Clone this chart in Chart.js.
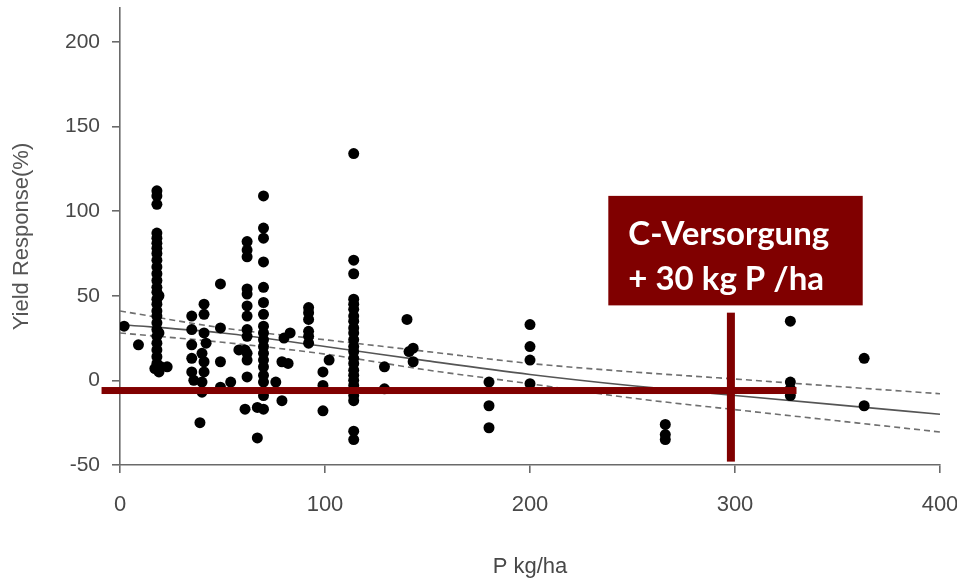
<!DOCTYPE html>
<html>
<head>
<meta charset="utf-8">
<script src="https://cdn.jsdelivr.net/npm/chart.js@4/dist/chart.umd.min.js"></script>
<style>
  html, body { margin: 0; padding: 0; background: #ffffff; }
  #wrap { width: 957px; height: 583px; }
</style>
</head>
<body>
<div id="wrap"><canvas id="c" width="957" height="583"></canvas></div>
<script>
// Axis ticks
const xTicks = [0, 100, 200, 300, 400];
const yTicks = [-50, 0, 50, 100, 150, 200];

// Field trials: P rate (kg/ha) and yield response (%)
const trialP = [
  2, 9,
  18, 18, 18, 18, 18, 18, 18, 18, 18, 18, 18, 18, 18, 18, 18, 18, 18, 18, 18, 18, 18, 18, 18, 18, 18, 17, 19, 20, 19, 19,
  23,
  35, 35, 35, 35, 35, 36,
  41, 41, 41, 40, 41, 41, 40, 40, 39, 42,
  49, 49, 49, 54, 49,
  62, 62, 62, 62, 62, 62, 62, 62, 62, 61, 62, 62, 62, 61,
  58,
  70, 70, 70, 70, 70, 70, 70, 70, 70, 70, 70, 70, 70, 70, 70, 70, 70, 67, 70, 67,
  76, 79, 79, 82, 80, 83,
  92, 92, 92, 92, 92, 92,
  102, 99, 99, 99,
  114, 114, 114, 114, 114, 114, 114, 114, 114, 114, 114, 114, 114, 114, 114, 114, 114, 114, 114, 114, 114, 114, 114, 114,
  129, 129,
  140, 141, 143, 143,
  180, 180, 180,
  200, 200, 200, 200,
  266, 266, 266,
  327, 327, 327, 327,
  363, 363
];
const trialResponse = [
  32, 21,
  112, 109, 104, 87, 84, 81, 78, 75, 71, 67, 63, 59, 55, 52, 48, 45, 41, 38, 34, 30, 26, 22, 18, 14, 10, 7, 5, 8, 50, 28,
  8,
  38, 30, 21, 13, 5, 0,
  45, 39, 28, 16, 11, 5, -1, -7, -25, 22,
  57, 31, 11, -1, -4,
  82, 77, 73, 54, 51, 44, 38, 30, 26, 18, 16, 12, 2, -17,
  18,
  109, 90, 84, 70, 55, 46, 39, 32, 28, 24, 20, 16, 12, 8, 3, -1, -9, -16, -17, -34,
  -1, -12, 11, 10, 25, 28,
  43, 40, 36, 29, 26, 22,
  12, 5, -3, -18,
  134, 71, 63, 48, 45, 42, 38, 35, 31, 28, 24, 20, 17, 13, 10, 6, 3, 0, -3, -6, -9, -12, -30, -35,
  8, -5,
  36, 17, 19, 11,
  -1, -15, -28,
  33, 20, 12, -2,
  -26, -32, -35,
  35, -1, -5, -9,
  13, -15
];

// Fitted response curve with its confidence band
const fitP     = [0, 50, 100, 150, 200, 250, 300, 350, 400];
const fitMean  = [33, 28, 20, 11.5, 3.5, -3.2, -8.9, -14.5, -20];
const fitUpper = [41, 31, 24, 17, 10, 5, 0.8, -3.6, -7.9];
const fitLower = [28, 22.5, 15.5, 6.1, -2, -10.5, -17.3, -23.9, -30.5];

const toXY = (xs, ys) => xs.map((v, i) => ({ x: v, y: ys[i] }));

const markRed = '#800000';
const axisFont = '"Liberation Sans", Arial, sans-serif';

// Marker: reference level, 300 kg line and the label box
const markerPlugin = {
  id: 'pMarker',
  afterDraw(chart) {
    const { ctx, scales: { x, y } } = chart;
    ctx.save();
    ctx.fillStyle = markRed;

    // horizontal level line
    const hy = y.getPixelForValue(-6);
    const hx0 = x.getPixelForValue(-9);
    const hx1 = x.getPixelForValue(330);
    ctx.fillRect(hx0, hy - 3.5, hx1 - hx0, 7);

    // vertical line at the 300 kg mark
    const vx = x.getPixelForValue(298);
    const vy0 = y.getPixelForValue(40);
    const vy1 = y.getPixelForValue(-48);
    ctx.fillRect(vx - 4, vy0, 8, vy1 - vy0);

    // label box
    const bx0 = x.getPixelForValue(238.2);
    const bx1 = x.getPixelForValue(362.3);
    const by0 = y.getPixelForValue(109);
    const by1 = y.getPixelForValue(44.3);
    ctx.fillRect(bx0, by0, bx1 - bx0, by1 - by0);

    ctx.fillStyle = '#ffffff';
    ctx.font = 'bold 33px Lato, "Open Sans", sans-serif';
    ctx.textAlign = 'left';
    ctx.textBaseline = 'alphabetic';
    ctx.fillText('C-Versorgung', bx0 + 20, by0 + 49.5);
    ctx.fillText('+ 30 kg P /ha', bx0 + 20, by0 + 94);
    ctx.restore();
  }
};

const gridStyle = { drawOnChartArea: false, drawTicks: true, tickLength: 8, color: '#6a6a6a', lineWidth: 1.6 };
const borderStyle = { display: true, color: '#6a6a6a', width: 1.6 };

new Chart(document.getElementById('c'), {
  type: 'scatter',
  data: {
    datasets: [
      {
        label: 'Trials',
        data: toXY(trialP, trialResponse),
        backgroundColor: '#000000',
        borderWidth: 0,
        pointRadius: 5.5,
        pointHoverRadius: 5.5
      },
      {
        type: 'line',
        label: 'Fit',
        data: toXY(fitP, fitMean),
        borderColor: '#555555',
        borderWidth: 1.6,
        pointRadius: 0,
        fill: false,
        cubicInterpolationMode: 'monotone'
      },
      {
        type: 'line',
        label: 'Upper',
        data: toXY(fitP, fitUpper),
        borderColor: '#6f6f6f',
        borderWidth: 1.6,
        borderDash: [6, 4],
        pointRadius: 0,
        fill: false,
        cubicInterpolationMode: 'monotone'
      },
      {
        type: 'line',
        label: 'Lower',
        data: toXY(fitP, fitLower),
        borderColor: '#6f6f6f',
        borderWidth: 1.6,
        borderDash: [6, 4],
        pointRadius: 0,
        fill: false,
        cubicInterpolationMode: 'monotone'
      }
    ]
  },
  options: {
    responsive: false,
    animation: false,
    events: [],
    layout: { padding: { top: 8, right: 17, left: 0, bottom: 0 } },
    plugins: { legend: { display: false }, tooltip: { enabled: false } },
    scales: {
      x: {
        type: 'linear',
        min: 0,
        max: 400,
        afterBuildTicks: s => { s.ticks = xTicks.map(v => ({ value: v })); },
        ticks: { padding: 19, color: '#484848', font: { family: axisFont, size: 22 } },
        grid: gridStyle,
        border: borderStyle,
        title: {
          display: true,
          text: 'P kg/ha',
          color: '#484848',
          font: { family: axisFont, size: 22 },
          padding: { top: 0, bottom: 3 }
        },
        afterFit: s => { s.height = 118; s.paddingLeft = 0; s.paddingRight = 0; }
      },
      y: {
        type: 'linear',
        min: -50,
        max: 220,
        afterBuildTicks: s => { s.ticks = yTicks.map(v => ({ value: v })); },
        ticks: { padding: 12, color: '#484848', font: { family: axisFont, size: 21 } },
        grid: gridStyle,
        border: borderStyle,
        title: {
          display: true,
          text: 'Yield Response(%)',
          color: '#555555',
          font: { family: axisFont, size: 22 },
          padding: { top: 9, bottom: 0 }
        },
        afterFit: s => { s.width = 120; s.paddingTop = 0; s.paddingBottom = 0; }
      }
    }
  },
  plugins: [markerPlugin]
});
</script>
</body>
</html>
